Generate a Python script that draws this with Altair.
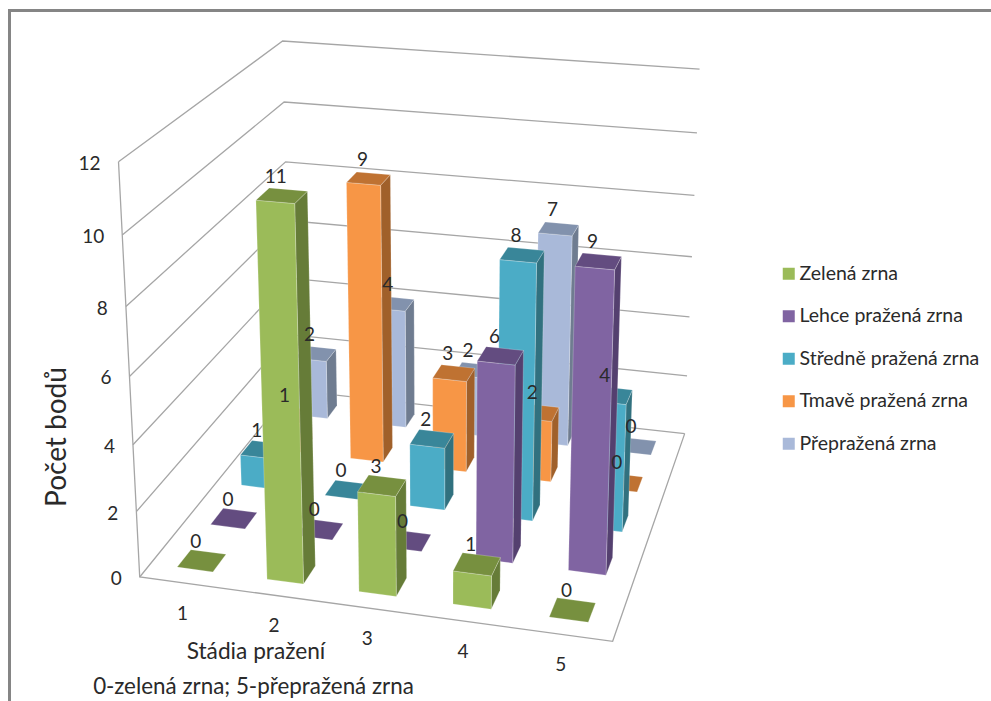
import altair as alt
import numpy as np

# Chart data: one row per roast class, one value per roasting stage
STAGES = ["1", "2", "3", "4", "5"]
SERIES = [
    "Zelená zrna",
    "Lehce pražená zrna",
    "Středně pražená zrna",
    "Tmavě pražená zrna",
    "Přepražená zrna",
]
ZELENA = [0, 11, 3, 1, 0]
LEHCE = [0, 0, 0, 6, 9]
STREDNE = [1, 0, 2, 8, 4]
TMAVE = [1, 9, 3, 2, 0]
PREPRAZENA = [2, 4, 2, 7, 0]
ROWS = [ZELENA, LEHCE, STREDNE, TMAVE, PREPRAZENA]
AXIS_TICKS = [0, 2, 4, 6, 8, 10, 12]

FRONT = ["#9bbb59", "#8064a2", "#4bacc6", "#f79646", "#a9b9d9"]
TOP = ["#77903f", "#634c80", "#398699", "#bf7232", "#8292ad"]
SIDE = ["#667c38", "#54406f", "#31717f", "#a0602a", "#6f7c90"]

FONT = "Lato"
BAR_SIZE = 0.40

# Camera calibration: box corners (stage, value, row) and where they fall on the canvas
BOX = [(0, 0, 0), (5, 0, 0), (5, 0, 5), (0, 0, 5), (0, 12, 0), (0, 12, 5), (5, 12, 5)]
VIEW = [(138, 577), (613, 641), (684, 434), (293, 390), (120, 162), (281, 41), (700, 69)]


def fit_camera(world, screen):
    rows, rhs = [], []
    for (a, b, c), (u, v) in zip(world, screen):
        rows.append([a, b, c, 1, 0, 0, 0, 0, -u * a, -u * b, -u * c])
        rows.append([0, 0, 0, 0, a, b, c, 1, -v * a, -v * b, -v * c])
        rhs += [u, v]
    sol = np.linalg.lstsq(np.array(rows, float), np.array(rhs, float), rcond=None)[0]
    return np.append(sol, 1.0).reshape(3, 4)


CAMERA = fit_camera(BOX, VIEW)


def project(stage, value, row):
    u, v, w = CAMERA @ np.array([stage, value, row, 1.0])
    return [float(u / w), float(v / w)]


def polygon(points, key):
    ring = [project(*p) for p in points]
    ring.append(ring[0])
    return {
        "type": "Feature",
        "properties": {"key": key},
        "geometry": {"type": "Polygon", "coordinates": [ring]},
    }


def polyline(points):
    return {
        "type": "Feature",
        "properties": {},
        "geometry": {"type": "LineString", "coordinates": points},
    }


def features(items):
    return alt.InlineData(
        values={"type": "FeatureCollection", "features": items},
        format=alt.DataFormat(property="features", type="json"),
    )


# Bars are painted back row first, left to right, so nearer ones cover farther ones
bar_faces = []
domain, colors = [], []
for r, name in enumerate(SERIES):
    domain += [name, name + " top", name + " side"]
    colors += [FRONT[r], TOP[r], SIDE[r]]

for r in reversed(range(len(SERIES))):
    for s in range(len(STAGES)):
        h = ROWS[r][s]
        x0, x1 = s + 0.5 - BAR_SIZE / 2, s + 0.5 + BAR_SIZE / 2
        z0, z1 = r + 0.5 - BAR_SIZE / 2, r + 0.5 + BAR_SIZE / 2
        if h > 0:
            bar_faces.append(polygon([(x1, 0, z0), (x1, 0, z1), (x1, h, z1), (x1, h, z0)], SERIES[r] + " side"))
            bar_faces.append(polygon([(x0, 0, z0), (x1, 0, z0), (x1, h, z0), (x0, h, z0)], SERIES[r]))
        bar_faces.append(polygon([(x0, h, z0), (x1, h, z0), (x1, h, z1), (x0, h, z1)], SERIES[r] + " top"))

# Gridlines run along the left wall and the back wall
wall_lines = []
for t in AXIS_TICKS:
    wall_lines.append(polyline([project(0, t, 0), project(0, t, 5), project(5, t, 5)]))
wall_lines.append(polyline([project(0, 12, 0), project(0, 0, 0), project(5, 0, 0), project(5, 0, 5)]))

frame_line = [polyline([[9.5, 701], [9.5, 10.5], [991, 10.5]])]

# Feature coordinates are already canvas pixels
projection = dict(type="identity", scale=1, translate=[0, 0])

frame = alt.Chart(features(frame_line)).mark_geoshape(
    filled=False, stroke="#858585", strokeWidth=3
).project(**projection)

grid = alt.Chart(features(wall_lines)).mark_geoshape(
    filled=False, stroke="#a6a6a6", strokeWidth=1.3
).project(**projection)

bars = alt.Chart(features(bar_faces)).mark_geoshape(
    stroke="#ffffff", strokeWidth=0.5, strokeOpacity=0.45
).encode(
    color=alt.Color(
        "properties.key:N",
        scale=alt.Scale(domain=domain, range=colors),
        legend=alt.Legend(
            values=SERIES,
            title=None,
            orient="none",
            legendX=779,
            legendY=264,
            padding=0,
            symbolType="square",
            symbolSize=144,
            symbolStrokeWidth=0,
            labelFont=FONT,
            labelFontSize=19.5,
            labelColor="#2a2a2a",
            labelOffset=1,
            rowPadding=21.5,
            labelLimit=220,
        ),
    )
).project(**projection)

X = alt.X("px:Q", scale=alt.Scale(domain=[0, 991], range=[0, 991]), axis=None)
Y = alt.Y("py:Q", scale=alt.Scale(domain=[0, 701], range=[0, 701]), axis=None)


def text_layer(rows, **mark):
    return alt.Chart(alt.Data(values=rows)).mark_text(font=FONT, color="#2a2a2a", **mark).encode(
        x=X, y=Y, text="label:N"
    )


value_rows = []
for r in range(len(SERIES)):
    for s in range(len(STAGES)):
        px, py = project(s + 0.5, ROWS[r][s], r + 0.5)
        value_rows.append({"px": px, "py": py, "label": str(ROWS[r][s])})

tick_rows = []
for t in AXIS_TICKS:
    px, py = project(0, t, 0)
    tick_rows.append({"px": px, "py": py, "label": str(t)})

stage_rows = []
for s, name in enumerate(STAGES):
    px, py = project(s + 0.5, 0, 0)
    stage_rows.append({"px": px, "py": py, "label": name})

value_labels = text_layer(value_rows, fontSize=19, dx=-6, dy=-19, align="center", baseline="middle")
tick_labels = text_layer(tick_rows, fontSize=19, dx=-18, dy=2, align="right", baseline="middle")
stage_labels = text_layer(stage_rows, fontSize=19, dx=-2, dy=31, align="center", baseline="middle")

y_title = text_layer([{"px": 58, "py": 437, "label": "Počet bodů"}], fontSize=28, angle=270, align="center", baseline="middle")
x_title = text_layer([{"px": 256, "py": 652, "label": "Stádia pražení"}], fontSize=22.7, align="center", baseline="middle")
x_note = text_layer(
    [{"px": 253.5, "py": 687, "label": "0-zelená zrna; 5-přepražená zrna"}],
    fontSize=22.4, align="center", baseline="middle",
)

chart = alt.layer(
    frame, grid, bars, value_labels, tick_labels, stage_labels, y_title, x_title, x_note
).properties(
    width=991,
    height=701,
    padding=0,
    autosize=alt.AutoSizeParams(type="none"),
    background="#ffffff",
).configure_view(stroke=None)

chart.save("out.html", embed_options={"renderer": "svg", "actions": False})
